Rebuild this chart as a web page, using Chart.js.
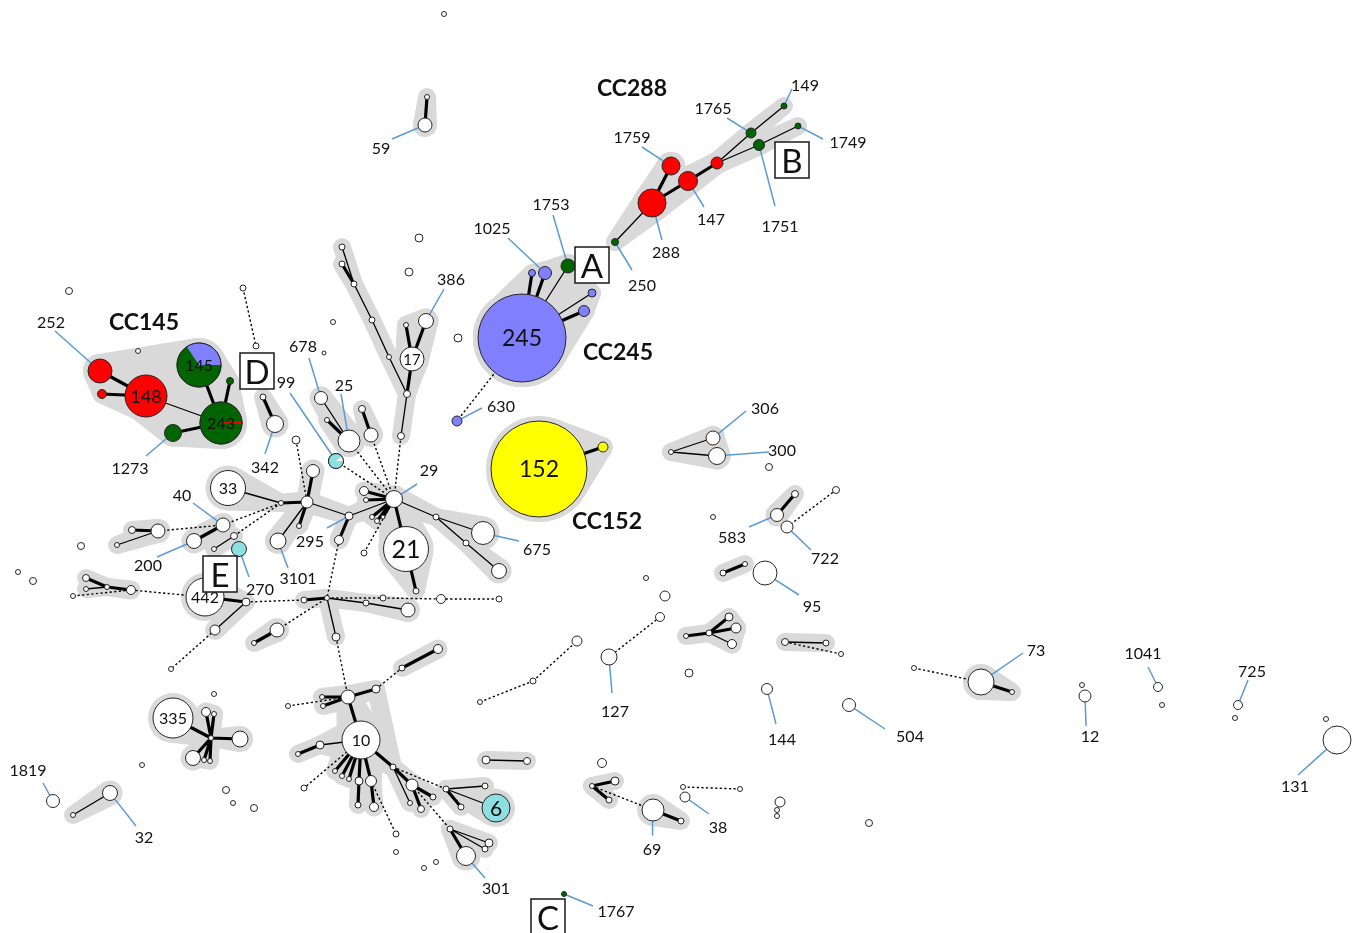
<!DOCTYPE html>
<html>
<head>
<meta charset="utf-8">
<script src="https://cdn.jsdelivr.net/npm/chart.js@4.4.1/dist/chart.umd.min.js"></script>
<style>
  html, body { margin: 0; padding: 0; background: #ffffff; overflow: hidden; }
  canvas { display: block; }
</style>
</head>
<body>
<canvas id="mst" width="1361" height="933"></canvas>
<script>
// ---- Minimum spanning tree of sequence types (layout units, radius ~ isolate count) ----
// [id, x, y, radius, lineage]   lineage: W none, R red, G green, B blue, Y yellow, C cyan
const sequenceTypes = [
  // CC288
  ['149',784,106,3,'G'], ['1765',751,133,5,'G'], ['1749',798,126,3,'G'], ['1751',759,145,5.5,'G'],
  ['r288a',717,163,6,'R'], ['147',688,181,9.5,'R'], ['1759',671,166,9,'R'], ['288',652,203,14,'R'],
  ['250',615,242,3.5,'G'],
  // CC245
  ['245',522,338,44,'B'], ['1025',545,273,6.5,'B'], ['b245a',532,273,3.5,'B'], ['1753',568,266,7,'G'],
  ['b245b',592,293,4,'B'], ['b245c',584,311,5.5,'B'], ['630',457,421,5,'B'],
  // CC152
  ['152',539,469,48,'Y'], ['y152a',603,447,5,'Y'],
  // CC145
  ['252',100,371,12,'R'], ['r148a',102,394,4.5,'R'], ['148',146,396,21,'R'], ['145',199,365,22,'G'],
  ['g243a',230,381,3.5,'G'], ['243',221,423,21,'G'], ['1273',173,433,8.5,'G'],
  // upper left / top
  ['u_top',444,14,2.5,'W'], ['59a',427,97,2.5,'W'], ['59',425,125,7,'W'], ['u_l1',69,291,3.5,'W'],
  ['u_l2',138,351,2.5,'W'], ['d1',243,288,3,'W'], ['d2',256,346,3,'W'], ['342a',263,397,3,'W'],
  ['342',275,424,8.5,'W'], ['u_c1',419,238,4,'W'], ['u_c2',409,272,4,'W'], ['u_c3',333,322,2.5,'W'],
  ['u_c4',324,353,2,'W'], ['u_c5',458,338,4,'W'],
  // ST17 branch
  ['c1',342,247,3,'W'], ['c2',342,264,3,'W'], ['c3',354,284,3,'W'], ['c4',372,320,3,'W'],
  ['c5',389,357,2.5,'W'], ['c6',407,394,3.5,'W'], ['c7',401,436,3.5,'W'], ['17',412,359,12,'W'],
  ['c8',406,325,2.5,'W'], ['386',426,321,7.5,'W'],
  // ST25 group
  ['678',321,398,6.5,'W'], ['c9',327,420,2.5,'W'], ['25',349,441,11,'W'], ['c10',362,409,3.5,'W'],
  ['c11',371,435,7,'W'], ['99',336,461,7.5,'C'], ['c12',296,440,4,'W'],
  // ST29 hub
  ['29',394,499,8.5,'W'], ['h1',364,491,4.5,'W'], ['h2',366,500,2.5,'W'], ['h3',372,517,2.5,'W'],
  ['h4',377,521,2.5,'W'], ['h5',383,517,2,'W'], ['h6',364,553,3,'W'], ['21',406,549,22.5,'W'],
  ['h7',416,591,3,'W'], ['h8',436,517,3,'W'], ['675',483,533,11.5,'W'], ['h9',466,543,3,'W'],
  ['h10',499,571,7.5,'W'], ['295',349,516,4,'W'], ['h11',339,540,4.5,'W'],
  // ST33 hub
  ['33',228,488,17.5,'W'], ['j33',281,503,2.5,'W'], ['k33',307,502,6,'W'], ['k33a',313,471,6.5,'W'],
  ['k33b',299,526,2.5,'W'], ['3101',278,541,8,'W'], ['40',223,525,7,'W'], ['200',194,541,7.5,'W'],
  ['e1',234,536,3.5,'W'], ['e2',214,549,2.5,'W'], ['l1',132,530,3.5,'W'], ['l2',158,531,7,'W'],
  ['l3',117,545,2.5,'W'], ['270',239,549,7.5,'C'], ['442',205,597,19,'W'], ['m1',246,602,4,'W'],
  ['m2',215,630,5,'W'], ['m3',171,669,2.5,'W'], ['m4',304,600,3,'W'], ['jb',327,598,2.5,'W'],
  ['f1',86,578,3.5,'W'], ['f2',107,587,2.5,'W'], ['f3',86,589,2.5,'W'], ['f4',131,590,4.5,'W'],
  ['f5',73,596,2.5,'W'], ['i1',81,546,3.5,'W'], ['i2',18,572,2.5,'W'], ['i3',33,581,3.5,'W'],
  ['g1',254,643,2.5,'W'], ['g2',277,630,7,'W'],
  // lower chain
  ['b1',336,637,4,'W'], ['b2',366,603,3,'W'], ['b3',408,610,7,'W'], ['b4',383,598,3,'W'],
  ['b5',441,599,4.5,'W'], ['b6',499,599,3,'W'],
  // ST10 group
  ['t1',348,697,7,'W'], ['t2',322,697,2.5,'W'], ['t3',323,706,2.5,'W'], ['t4',288,706,2.5,'W'],
  ['t5',376,689,4,'W'], ['t6',402,668,3,'W'], ['t7',438,649,4.5,'W'], ['10',361,740,19,'W'],
  ['t8',320,745,4,'W'], ['t9',298,754,2.5,'W'], ['t10',304,788,3,'W'],
  ['s1',335,771,2.5,'W'], ['s2',342,776,2.5,'W'], ['s3',349,779,2.5,'W'], ['s4',359,781,4,'W'],
  ['s5',371,781,5.5,'W'], ['s6',358,805,3,'W'], ['s7',374,807,4.5,'W'], ['s8',396,834,3,'W'],
  ['s9',393,767,3,'W'], ['s10',412,785,6,'W'], ['s11',410,803,2.5,'W'], ['s12',433,797,3,'W'],
  ['s13',421,809,3.5,'W'], ['s14',446,789,3,'W'], ['s15',485,786,3,'W'], ['6',496,808,14,'C'],
  ['s16',461,807,3,'W'], ['s17',450,829,3,'W'], ['s18',489,843,4,'W'], ['s19',485,849,3,'W'],
  ['301',466,856,9.5,'W'], ['s20',486,760,4,'W'], ['s21',527,761,3.5,'W'],
  ['v1',396,852,2.5,'W'], ['v2',424,868,2.5,'W'], ['v3',436,862,2.5,'W'], ['v4',214,694,2.5,'W'],
  ['v5',226,790,3.5,'W'], ['v6',233,803,2.5,'W'], ['v7',254,808,3.5,'W'], ['v8',142,765,2.5,'W'],
  ['v9',480,702,2.5,'W'], ['v10',533,681,3,'W'], ['v11',577,641,5,'W'],
  // ST335 group and lower left
  ['335',173,718,20,'W'], ['q0',211,738,2.5,'W'], ['q1',206,712,4.5,'W'], ['q2',214,714,2.5,'W'],
  ['q3',240,739,8,'W'], ['q4',193,758,7.5,'W'], ['q5',204,760,2.5,'W'], ['q6',210,761,2.5,'W'],
  ['32',110,793,7.5,'W'], ['32a',73,815,2.5,'W'], ['1819',53,801,6.5,'W'], ['1767',564,894,2.5,'G'],
  // right side
  ['306',713,438,7,'W'], ['300',717,456,8.5,'W'], ['w1',671,452,2.5,'W'], ['w2',769,467,3.5,'W'],
  ['583',777,515,6.5,'W'], ['w3',795,494,3.5,'W'], ['722',787,527,6,'W'], ['w4',836,490,3.5,'W'],
  ['w5',713,517,2.5,'W'], ['w6',723,573,3,'W'], ['w7',745,564,2.5,'W'], ['95',765,573,12,'W'],
  ['w8',646,578,2.5,'W'], ['w9',665,596,5,'W'], ['w10',660,617,4.5,'W'], ['127',609,657,8,'W'],
  ['w11',689,673,4,'W'], ['x1',686,636,2.5,'W'], ['x2',709,633,3,'W'], ['x3',729,617,4,'W'],
  ['x4',736,628,5,'W'], ['x5',732,644,4.5,'W'], ['x6',785,642,3.5,'W'], ['x7',826,643,3,'W'],
  ['x8',841,654,2.5,'W'], ['144',767,689,5.5,'W'], ['504',849,705,6.5,'W'],
  ['z1',914,668,2.5,'W'], ['73',981,682,13,'W'], ['z2',1012,692,2.5,'W'], ['z3',1082,685,2.5,'W'],
  ['12',1085,696,6,'W'], ['1041',1158,687,4.5,'W'], ['z4',1162,705,2.5,'W'], ['725',1238,705,4.5,'W'],
  ['z5',1235,718,2.5,'W'], ['131',1337,740,14,'W'], ['z6',1326,719,2.5,'W'],
  ['y1',602,763,4.5,'W'], ['y2',592,786,2.5,'W'], ['y3',615,781,4,'W'], ['y4',609,800,3,'W'],
  ['69',653,810,11,'W'], ['y5',681,821,3,'W'], ['y6',683,787,2.5,'W'], ['y7',740,789,2.5,'W'],
  ['38',685,797,5,'W'], ['y8',780,802,5,'W'], ['y9',777,810,2.5,'W'], ['y10',777,816,2.5,'W'],
  ['y11',869,823,3.5,'W']
];

// Tree links: [from, to, kind]  T = 1 locus difference, N = 2 loci, D = 3+ loci
const links = [
  ['250','288','N'], ['288','1759','T'], ['288','147','T'], ['147','r288a','T'], ['r288a','1765','N'],
  ['1765','149','N'], ['r288a','1751','N'], ['1751','1749','N'],
  ['245','b245a','T'], ['245','1025','T'], ['245','1753','N'], ['245','b245b','N'], ['245','b245c','T'],
  ['245','630','D'], ['152','y152a','T'],
  ['252','148','T'], ['r148a','148','T'], ['148','243','N'], ['145','243','T'], ['g243a','243','T'],
  ['1273','243','T'],
  ['59a','59','T'], ['d1','d2','D'], ['342a','342','T'],
  ['c1','c3','N'], ['c2','c3','T'], ['c3','c4','N'], ['c4','c5','N'], ['c5','c6','N'], ['17','c6','T'],
  ['17','c8','T'], ['17','386','T'], ['c6','c7','N'], ['c7','29','D'],
  ['678','25','N'], ['c9','25','T'], ['c10','c11','T'], ['25','29','D'], ['c11','29','D'], ['99','29','D'],
  ['c12','k33','D'],
  ['h1','29','T'], ['h2','29','T'], ['h3','29','T'], ['h4','29','T'], ['h5','29','T'], ['h6','29','D'],
  ['29','21','T'], ['21','h7','T'], ['29','h8','N'], ['h8','675','N'], ['h8','h9','N'], ['h9','h10','N'],
  ['29','295','N'], ['295','k33','N'], ['295','h11','T'], ['h11','jb','D'],
  ['33','j33','N'], ['j33','k33','T'], ['k33','k33a','T'], ['k33','k33b','T'], ['k33','3101','N'],
  ['j33','40','D'], ['j33','e1','D'], ['40','200','T'], ['e1','e2','N'], ['l2','40','D'], ['l1','l2','T'],
  ['l3','l2','N'], ['442','m1','T'], ['m1','m2','N'], ['m2','m3','D'], ['m1','m4','D'], ['m4','jb','T'],
  ['f1','f2','T'], ['f3','f2','N'], ['f2','f4','T'], ['f5','f4','D'], ['f4','442','D'], ['g1','g2','T'],
  ['g2','jb','D'],
  ['jb','b1','N'], ['jb','b2','N'], ['b2','b3','N'], ['jb','b4','D'], ['b4','b5','D'], ['b5','b6','D'],
  ['b1','t1','D'],
  ['t2','t1','T'], ['t3','t1','T'], ['t4','t1','D'], ['t1','t5','T'], ['t5','t6','D'], ['t6','t7','T'],
  ['t1','10','T'], ['10','t8','N'], ['t8','t9','T'], ['10','t10','D'],
  ['10','s1','T'], ['10','s2','T'], ['10','s3','T'], ['10','s4','T'], ['10','s5','T'], ['s4','s6','T'],
  ['s5','s7','T'], ['s5','s8','D'], ['10','s9','T'], ['s9','s10','T'], ['s9','s11','N'], ['s10','s12','T'],
  ['s10','s13','T'], ['s9','s14','D'], ['s14','s15','N'], ['s14','6','N'], ['s14','s16','T'],
  ['s10','s17','D'], ['s17','s18','N'], ['s17','s19','N'], ['s17','301','T'], ['s20','s21','N'],
  ['v9','v10','D'], ['v10','v11','D'],
  ['335','q0','T'], ['q0','q1','T'], ['q0','q2','T'], ['q0','q3','T'], ['q0','q4','T'], ['q0','q5','T'],
  ['q0','q6','T'], ['32','32a','N'],
  ['w1','306','N'], ['w1','300','N'], ['583','w3','T'], ['722','w4','D'], ['w6','w7','T'],
  ['w10','127','D'], ['x1','x2','T'], ['x2','x3','T'], ['x2','x4','T'], ['x2','x5','N'], ['x6','x7','N'],
  ['x6','x8','D'], ['z1','73','D'], ['73','z2','T'], ['y2','y3','T'], ['y2','y4','T'], ['y2','69','D'],
  ['69','y5','T'], ['y6','y7','D']
];

// Shaded groups: pairs whose enclosing hull is shaded
const groupHulls = [
  ['250','288'], ['288','1759'], ['288','147'], ['147','r288a'], ['r288a','1765'], ['1765','149'],
  ['r288a','1751'], ['1751','1749'], ['250','1759'],
  ['245','b245a'], ['245','1025'], ['245','1753'], ['245','b245b'], ['245','b245c'],
  ['b245a','1025'], ['1025','1753'], ['1753','b245b'], ['b245b','b245c'],
  ['152','y152a'],
  ['252','148'], ['r148a','148'], ['148','243'], ['145','243'], ['g243a','243'], ['1273','243'],
  ['252','r148a'], ['252','145'], ['1273','148'], ['145','g243a'],
  ['59a','59'], ['342a','342'],
  ['c1','c3'], ['c2','c3'], ['c3','c4'], ['c4','c5'], ['c5','c6'], ['c6','c7'], ['17','c6'], ['17','c8'],
  ['17','386'], ['c8','386'],
  ['678','25'], ['c9','25'], ['c10','c11'],
  ['29','h1'], ['29','h2'], ['29','h3'], ['29','h4'], ['29','h5'], ['29','21'], ['21','h7'], ['29','h8'],
  ['h8','675'], ['h8','h9'], ['h9','h10'], ['29','295'], ['295','k33'], ['295','h11'],
  ['33','j33'], ['j33','k33'], ['k33','k33a'], ['k33','k33b'], ['k33','3101'], ['40','200'], ['e1','e2'],
  ['l1','l2'], ['l3','l2'], ['442','m1'], ['m1','m2'], ['m4','jb'], ['f1','f2'], ['f3','f2'], ['f2','f4'],
  ['g1','g2'],
  ['jb','b1'], ['jb','b2'], ['b2','b3'],
  ['t2','t1'], ['t3','t1'], ['t1','t5'], ['t6','t7'], ['t1','10'], ['10','t8'], ['t8','t9'], ['10','s1'],
  ['10','s2'], ['10','s3'], ['10','s4'], ['10','s5'], ['s4','s6'], ['s5','s7'], ['10','s9'], ['s9','s10'],
  ['s9','s11'], ['s10','s12'], ['s10','s13'], ['t5','s9'], ['s14','s15'], ['s14','6'], ['s14','s16'],
  ['s17','s18'], ['s17','s19'], ['s17','301'], ['s20','s21'],
  ['335','q0'], ['q0','q1'], ['q0','q2'], ['q0','q3'], ['q0','q4'], ['q0','q5'], ['q0','q6'], ['q1','q2'],
  ['32','32a'],
  ['w1','306'], ['w1','300'], ['306','300'], ['583','w3'], ['w6','w7'], ['x1','x2'], ['x2','x3'],
  ['x2','x4'], ['x2','x5'], ['x3','x4'], ['x4','x5'], ['x6','x7'], ['73','z2'], ['y2','y3'], ['y2','y4'],
  ['69','y5']
];

// Mixed-lineage sequence types: slices in clockwise order from 3 o'clock
const pieShares = {
  '145': [['G', 0.656], ['B', 0.344]],
  '243': [['G', 0.992], ['R', 0.008]],
  '99':  [['C', 0.9],   ['W', 0.1]]
};

// ST callouts: [text, text x, text y, node, leader start x, leader start y]
const stLabels = [
  ['149',805,86,'149',792,89], ['1765',713,109,'1765',727,118], ['1749',848,143,'1749',823,139],
  ['1759',632,138,'1759',642,147], ['147',711,220,'147',704,207], ['1751',780,227,'1751',775,206],
  ['288',666,253,'288',662,240], ['250',642,286,'250',632,270], ['1753',551,205,'1753',553,215],
  ['1025',492,229,'1025',508,238], ['630',501,407,'630',482,408], ['252',51,323,'252',55,331],
  ['1273',130,469,'1273',146,456], ['99',286,383,'99',290,393], ['342',265,468,'342',265,454],
  ['386',451,280,'386',444,289], ['678',303,347,'678',309,358], ['25',344,386,'25',341,394],
  ['29',429,471,'29',417,484], ['675',537,550,'675',519,541], ['40',182,496,'40',193,503],
  ['200',148,566,'200',157,557], ['3101',298,579,'3101',288,568], ['295',310,542,'295',327,528],
  ['270',260,590,'270',249,577], ['301',496,889,'301',485,878], ['32',144,838,'32',136,826],
  ['1819',28,771,'1819',43,783], ['1767',616,912,'1767',593,906], ['306',765,409,'306',746,411],
  ['300',782,451,'300',769,452], ['583',732,538,'583',749,527], ['722',825,559,'722',811,550],
  ['95',812,607,'95',799,595], ['127',615,712,'127',612,693], ['144',782,740,'144',776,724],
  ['504',910,737,'504',885,729], ['73',1036,651,'73',1023,653], ['12',1090,737,'12',1086,726],
  ['1041',1143,654,'1041',1148,667], ['725',1252,672,'725',1248,680], ['131',1295,787,'131',1298,775],
  ['38',718,828,'38',709,814], ['69',652,850,'69',652,835], ['59',381,149,'59',392,139]
];

// Sequence types named inside their circle
const innerLabels = ['245','152','148','145','243','17','33','21','442','10','335','6'];

// Clonal complexes: [name, x, y]
const complexLabels = [['CC288',632,89], ['CC245',618,353], ['CC152',607,522], ['CC145',144,323]];

// Boxed markers: [letter, centre x, centre y]
const markers = [['A',592,265], ['B',792,160], ['C',548,917], ['D',257,371], ['E',220,574]];

// ---- styling ----
const lineageColor = { W:'#ffffff', R:'#ff0000', G:'#006400', B:'#8080ff', Y:'#ffff00', C:'#8ddfe2' };
const innerFont = { '245':23, '152':23, '148':18, '145':16, '243':16, '17':15, '33':16, '21':25,
                    '442':16, '10':16, '335':16, '6':21 };
const FONT = 'Lato, "Open Sans", "DejaVu Sans", sans-serif';

const byId = {};
sequenceTypes.forEach(n => { byId[n[0]] = n; });

function segments(list) {
  const pts = [];
  list.forEach(([a, b]) => {
    const p = byId[a], q = byId[b];
    pts.push({ x: p[1], y: p[2] }, { x: q[1], y: q[2] }, { x: null, y: null });
  });
  return pts;
}

function leaderSegments() {
  const pts = [];
  stLabels.forEach(([, , , id, sx, sy]) => {
    const n = byId[id];
    const dx = sx - n[1], dy = sy - n[2], d = Math.hypot(dx, dy) || 1;
    pts.push({ x: sx, y: sy }, { x: n[1] + n[3] * dx / d, y: n[2] + n[3] * dy / d }, { x: null, y: null });
  });
  return pts;
}

const edgeStyle = {
  T: { borderWidth: 3.2, borderDash: [] },
  N: { borderWidth: 1.3, borderDash: [] },
  D: { borderWidth: 1.4, borderDash: [2.2, 2.4] }
};

const edgeSets = ['D', 'N', 'T'].map(kind => ({
  label: 'links-' + kind,
  data: segments(links.filter(l => l[2] === kind)),
  showLine: true,
  spanGaps: false,
  borderColor: '#000000',
  borderWidth: edgeStyle[kind].borderWidth,
  borderDash: edgeStyle[kind].borderDash,
  borderCapStyle: 'butt',
  pointRadius: 0,
  pointHoverRadius: 0,
  tension: 0,
  order: 3
}));

const leaderSet = {
  label: 'callouts',
  data: leaderSegments(),
  showLine: true,
  spanGaps: false,
  borderColor: '#5b9bd5',
  borderWidth: 1.5,
  pointRadius: 0,
  pointHoverRadius: 0,
  order: 2
};

const nodeSet = {
  label: 'sequence types',
  data: sequenceTypes.map(n => ({ x: n[1], y: n[2] })),
  pointRadius: sequenceTypes.map(n => n[3]),
  pointHoverRadius: sequenceTypes.map(n => n[3]),
  pointBackgroundColor: sequenceTypes.map(n => lineageColor[n[4]]),
  pointHoverBackgroundColor: sequenceTypes.map(n => lineageColor[n[4]]),
  pointBorderColor: '#262626',
  pointBorderWidth: 1,
  pointHoverBorderWidth: 1,
  showLine: false,
  order: 1
};

function px(chart, x, y) {
  return [chart.scales.x.getPixelForValue(x), chart.scales.y.getPixelForValue(y)];
}

// grey shading behind clonal groups
const hullPlugin = {
  id: 'groupHulls',
  beforeDatasetsDraw(chart) {
    const ctx = chart.ctx;
    const pad = r => Math.max(r + 5, 9);
    ctx.save();
    ctx.fillStyle = '#d9d9d9';
    groupHulls.forEach(([a, b]) => {
      const p = byId[a], q = byId[b];
      const [x1, y1] = px(chart, p[1], p[2]);
      const [x2, y2] = px(chart, q[1], q[2]);
      const r1 = pad(p[3]), r2 = pad(q[3]);
      ctx.beginPath(); ctx.arc(x1, y1, r1, 0, Math.PI * 2); ctx.fill();
      ctx.beginPath(); ctx.arc(x2, y2, r2, 0, Math.PI * 2); ctx.fill();
      const dx = x2 - x1, dy = y2 - y1, d = Math.hypot(dx, dy);
      if (d > Math.abs(r1 - r2)) {
        const th = Math.atan2(dy, dx), ph = Math.acos((r1 - r2) / d);
        ctx.beginPath();
        ctx.moveTo(x1 + r1 * Math.cos(th + ph), y1 + r1 * Math.sin(th + ph));
        ctx.lineTo(x2 + r2 * Math.cos(th + ph), y2 + r2 * Math.sin(th + ph));
        ctx.lineTo(x2 + r2 * Math.cos(th - ph), y2 + r2 * Math.sin(th - ph));
        ctx.lineTo(x1 + r1 * Math.cos(th - ph), y1 + r1 * Math.sin(th - ph));
        ctx.closePath();
        ctx.fill();
      }
    });
    ctx.restore();
  }
};

// pies, names and boxed markers
const annotationPlugin = {
  id: 'stAnnotations',
  afterDatasetsDraw(chart) {
    const ctx = chart.ctx;
    ctx.save();

    Object.keys(pieShares).forEach(id => {
      const n = byId[id];
      const [cx, cy] = px(chart, n[1], n[2]);
      let a = 0;
      pieShares[id].forEach(([lin, share]) => {
        const b = a + share * Math.PI * 2;
        ctx.beginPath();
        ctx.moveTo(cx, cy);
        ctx.arc(cx, cy, n[3], a, b);
        ctx.closePath();
        ctx.fillStyle = lineageColor[lin];
        ctx.fill();
        if (share < 0.02) { ctx.strokeStyle = lineageColor[lin]; ctx.lineWidth = 1.2; ctx.stroke(); }
        a = b;
      });
      ctx.beginPath();
      ctx.arc(cx, cy, n[3], 0, Math.PI * 2);
      ctx.strokeStyle = '#262626';
      ctx.lineWidth = 1;
      ctx.stroke();
    });

    ctx.textAlign = 'center';
    ctx.textBaseline = 'middle';
    ctx.fillStyle = '#111111';
    innerLabels.forEach(id => {
      const n = byId[id];
      const [cx, cy] = px(chart, n[1], n[2]);
      ctx.font = innerFont[id] + 'px ' + FONT;
      ctx.fillText(id, cx, cy + 1);
    });

    ctx.font = '16px ' + FONT;
    stLabels.forEach(([t, x, y]) => {
      const [lx, ly] = px(chart, x, y);
      ctx.fillText(t, lx, ly);
    });

    ctx.font = 'bold 23px ' + FONT;
    complexLabels.forEach(([t, x, y]) => {
      const [lx, ly] = px(chart, x, y);
      ctx.fillText(t, lx, ly);
    });

    markers.forEach(([t, x, y]) => {
      const [mx, my] = px(chart, x, y);
      ctx.fillStyle = '#ffffff';
      ctx.fillRect(mx - 17, my - 18, 34, 36);
      ctx.strokeStyle = '#1a1a1a';
      ctx.lineWidth = 1.5;
      ctx.strokeRect(mx - 17, my - 18, 34, 36);
      ctx.fillStyle = '#111111';
      ctx.font = '33px ' + FONT;
      ctx.fillText(t, mx, my + 2);
    });

    ctx.restore();
  }
};

new Chart(document.getElementById('mst'), {
  type: 'scatter',
  data: { datasets: [nodeSet, leaderSet, ...edgeSets] },
  options: {
    responsive: false,
    animation: false,
    events: [],
    layout: { padding: 0, autoPadding: false },
    scales: {
      x: { type: 'linear', min: 0, max: 1361, display: false },
      y: { type: 'linear', min: 0, max: 933, reverse: true, display: false }
    },
    plugins: { legend: { display: false }, tooltip: { enabled: false } }
  },
  plugins: [hullPlugin, annotationPlugin]
});
</script>
</body>
</html>
